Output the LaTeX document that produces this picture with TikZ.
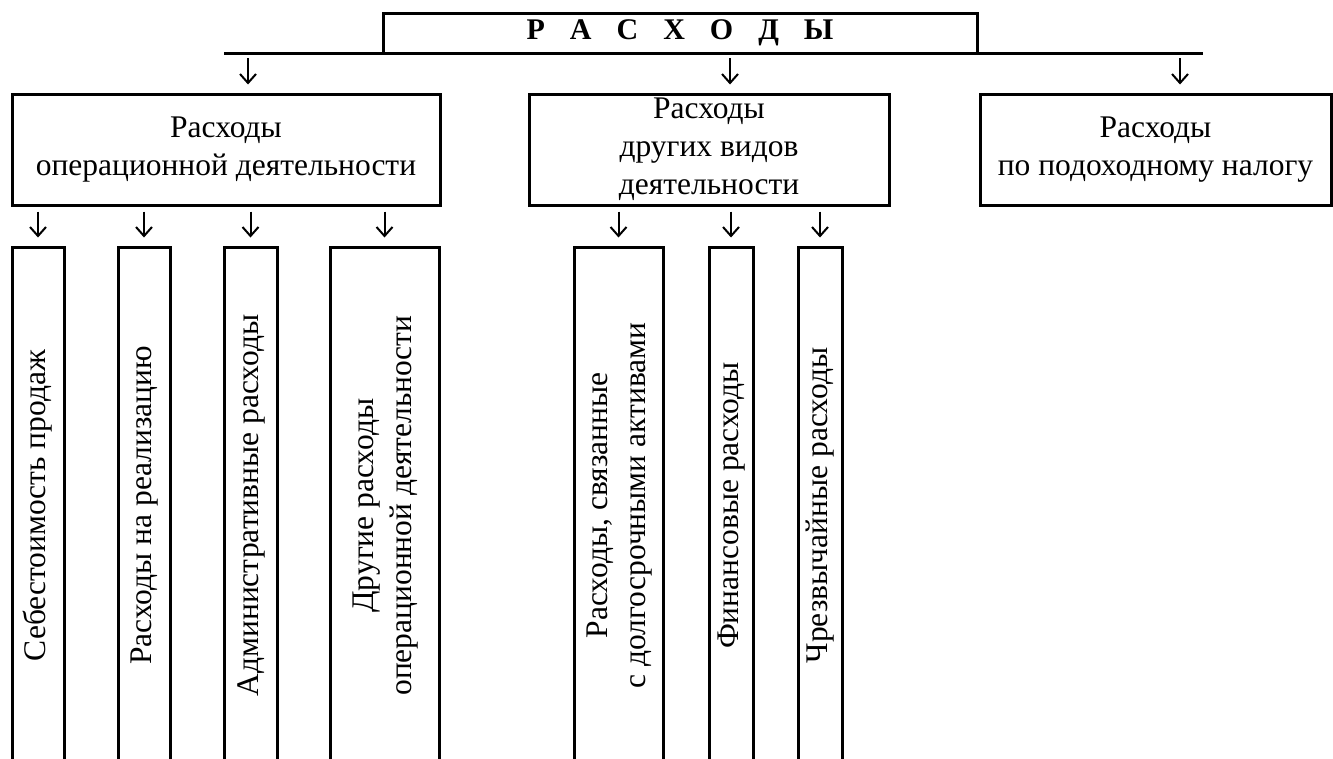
\documentclass[tikz,border=0pt]{standalone}
\usepackage{fontspec}
\setmainfont{Liberation Serif}
\usepackage{graphicx}
\usepackage{tikz}
\usetikzlibrary{positioning,arrows.meta}
\newcommand{\lsp}{\hspace{25pt}}
\newcommand{\vtext}[1]{\rotatebox{90}{\begin{tabular}{@{}c@{}}#1\end{tabular}}}
\tikzstyle{head}=[draw, line width=3pt, inner sep=0pt, minimum width=594pt, minimum height=40pt, font=\fontsize{30}{36}\selectfont\bfseries]
\tikzstyle{grp}=[draw, line width=3pt, inner sep=0pt, minimum height=111pt, align=center, font=\fontsize{31.5}{38}\selectfont]
\tikzstyle{item}=[draw, line width=3pt, inner sep=0pt, minimum height=517pt, font=\fontsize{31.5}{38}\selectfont]
\tikzstyle{arr}=[-{Straight Barb[length=9pt,width=16pt]}, line width=2pt, shorten <=5pt, shorten >=8pt]

\begin{document}
\begin{tikzpicture}[x=1pt,y=-1pt]
\useasboundingbox (0,0) rectangle (1333,758);

\node[head] at (680,33) (total) {Р\lsp А\lsp С\lsp Х\lsp О\lsp Д\lsp Ы};
\coordinate (hl) at (224,53);
\coordinate (hr) at (1203,53);
\draw[line width=3pt] (hl) -- (hr);

\node[grp, minimum width=428pt] at (226,149.5) (opbox) {Расходы\\операционной деятельности};
\node[grp, minimum width=360pt] at (709,149.5) (othbox) {Расходы\\других видов\\деятельности};
\node[grp, minimum width=351pt] at (1155.5,149.5) (taxbox) {Расходы\\по подоходному налогу};

\coordinate (t1) at (248,53);
\coordinate (t2) at (730,53);
\coordinate (t3) at (1180,53);
\draw[arr] (t1) -- (t1 |- opbox.north);
\draw[arr] (t2) -- (t2 |- othbox.north);
\draw[arr] (t3) -- (t3 |- taxbox.north);

% operational expenses
\node[item, minimum width=52pt] at (38,505.5) (cost) {\vtext{Себестоимость продаж}};
\node[item, minimum width=52pt] at (144,505.5) (sale) {\vtext{Расходы на реализацию}};
\node[item, minimum width=53pt] at (250.5,505.5) (admin) {\vtext{Административные расходы}};
\node[item, minimum width=109pt] at (384.5,505.5) (otherop) {\vtext{Другие расходы\\операционной деятельности}};

% other activities
\node[item, minimum width=89pt] at (618.5,505.5) (assets) {\vtext{Расходы, связанные\\с долгосрочными активами}};
\node[item, minimum width=44pt] at (731,505.5) (fin) {\vtext{Финансовые расходы}};
\node[item, minimum width=44pt] at (820,505.5) (extra) {\vtext{Чрезвычайные расходы}};

\foreach \n in {cost,sale,admin,otherop}
  \draw[arr] (opbox.south -| \n) -- (\n.north);
\foreach \n in {assets,fin,extra}
  \draw[arr] (othbox.south -| \n) -- (\n.north);
\end{tikzpicture}
\end{document}
